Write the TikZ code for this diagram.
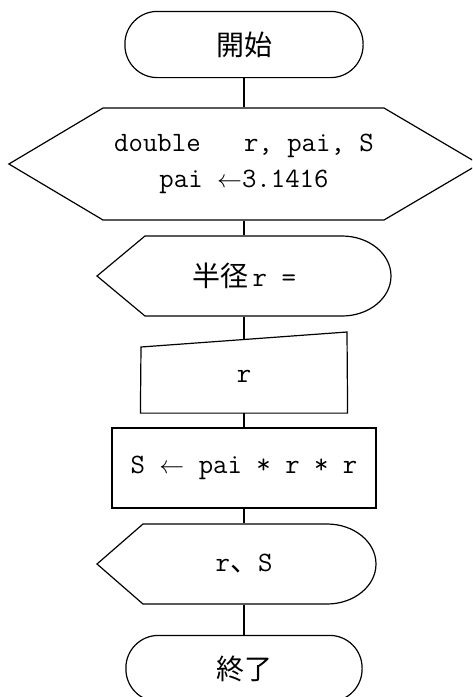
\documentclass[tikz,border=0pt]{standalone}
\usepackage{fontspec}
\newfontfamily\cjk{Noto Sans CJK JP}
\begin{document}
\begin{tikzpicture}[x=1pt,y=-1pt,line width=1.2pt,
  txt/.style={font=\fontsize{28}{36}\selectfont\ttfamily, inner sep=0pt, align=center}]
\useasboundingbox (0,0) rectangle (472,697);
\clip (0,0) rectangle (472,697);
% start
\node[txt, minimum width=237pt, minimum height=65pt] (start) at (244,44.5) {{\cjk 開始}};
\draw[rounded corners=32.5pt] (start.south west) rectangle (start.north east);
% preparation
\node[txt, minimum width=469pt, minimum height=112pt] (prep) at (244,164) {double\ \ \ r, pai, S\\pai $\leftarrow$3.1416};
\draw (prep.west) -- (103,108) -- (384,108) -- (prep.east) -- (384,220) -- (103,220) -- cycle;
% display 1
\node[txt, minimum width=200pt, minimum height=80pt] (in1) at (244,276) {{\cjk 半径}\,r =};
\draw (97,276) -- (145,236) -- (342,236) arc[start angle=-90, end angle=90, x radius=49, y radius=40] -- (145,316) -- cycle;
% manual input
\node[txt, minimum width=206pt, minimum height=73pt] (man) at (244,376) {r};
\draw (man.south west) -- (man.south east) -- (347,332) -- (141,347) -- cycle;
% process
\node[txt, draw, minimum width=264pt, minimum height=80pt] (proc) at (244,468) {S $\leftarrow$ pai * r * r};
% display 2
\node[txt, minimum width=200pt, minimum height=80pt] (out) at (244,564) {r{\cjk 、}S};
\draw (97,564) -- (143,524) -- (327,524) arc[start angle=-90, end angle=90, x radius=49, y radius=40] -- (143,604) -- cycle;
% end
\node[txt, minimum width=235pt, minimum height=65pt] (stop) at (244,668.5) {{\cjk 終了}};
\draw[rounded corners=32.5pt] (stop.south west) rectangle (stop.north east);
% connectors
\draw (start.south) -- (prep.north);
\draw (prep.south) -- (in1.north);
\draw (in1.south) -- (man.north);
\draw (man.south) -- (proc.north);
\draw (proc.south) -- (out.north);
\draw (out.south) -- (stop.north);
\end{tikzpicture}
\end{document}
